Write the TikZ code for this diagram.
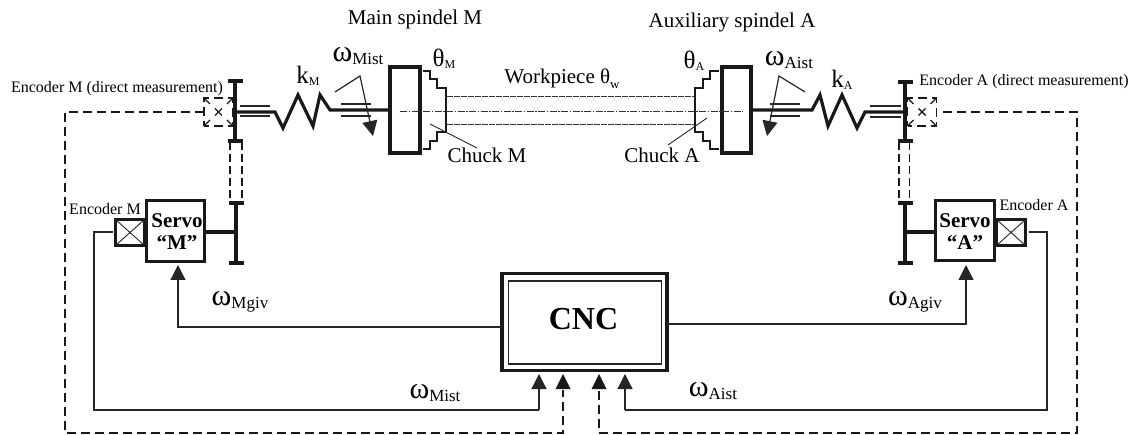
\documentclass[tikz,border=0pt]{standalone}
\usepackage{fontspec}
\setmainfont{Liberation Serif}
\usetikzlibrary{arrows.meta}

\newcommand{\symsub}[4]{{\fontsize{#2}{#2}\selectfont #1}\raisebox{-0.25em}{\fontsize{#4}{#4}\selectfont #3}}
\tikzset{every picture/.style={line width=0.75pt},
    boxthick/.style={draw=black!90, line width=3.2pt, fill=white, inner sep=0pt, outer sep=0pt},
    axle/.style={color=black!90, line width=3.2pt},
    sigline/.style={color=black!85, line width=1.2pt},
    sigtip/.style={-{Triangle[length=15pt,width=15pt]}},
    dashline/.style={color=black!90, line width=1.8pt, dash pattern={on 9pt off 5pt}},
    dashbox/.style={draw=black!90, line width=1.8pt, dash pattern={on 9.25pt off 5pt}, dash phase=4.6pt, inner sep=0pt, outer sep=0pt},
    belt/.style={color=black!90, line width=1.8pt, dash pattern={on 8pt off 4pt}},
    thinline/.style={color=black!85, line width=0.9pt},
    wpline/.style={color=black!80, line width=0.6pt, dash pattern={on 6pt off 1pt}},
    wpcenter/.style={color=black!80, line width=0.6pt, dash pattern={on 7pt off 1.5pt on 1.5pt off 1.5pt}},
    lblsmall/.style={font=\fontsize{16}{16}\selectfont, inner sep=0pt},
    lblmid/.style={font=\fontsize{21}{21}\selectfont, inner sep=0pt},
    lblservo/.style={font=\fontsize{21}{22}\selectfont\bfseries, inner sep=0pt, align=center}}

\begin{document}
\begin{tikzpicture}[x=1pt,y=-1pt]
    \useasboundingbox (0,0) rectangle (1132,435);

    \node[boxthick, minimum width=165pt, minimum height=97pt] (cncOuter) at (584.5,322) {};
    \node[draw=black!85, line width=1.4pt, fill=white, inner sep=0pt, outer sep=0pt, minimum width=153pt, minimum height=83pt] (cncInner) at (585,322.5) {};
    \node[font=\fontsize{32}{32}\selectfont\bfseries, inner sep=0pt] (cncText) at (583.5,319) {CNC};

    \node[boxthick, minimum width=58pt, minimum height=61pt] (servoM) at (175.5,231) {};
    \node[boxthick, minimum width=59pt, minimum height=60pt] (servoA) at (965,230.5) {};
    \node[lblservo] (servoMText) at (177,231.5) {Servo\\``M''};
    \node[lblservo] (servoAText) at (965,231.5) {Servo\\``A''};
    \node[boxthick, minimum width=29pt, minimum height=26pt] (encM) at (130,232.5) {};
    \node[boxthick, minimum width=29pt, minimum height=26pt] (encA) at (1011,232.5) {};
    \draw[thinline] (encM.north west) -- (encM.south east) (encM.south west) -- (encM.north east);
    \draw[thinline] (encA.north west) -- (encA.south east) (encA.south west) -- (encA.north east);

    \node[boxthick, line width=3.8pt, minimum width=30pt, minimum height=86pt] (wheelM) at (405,110) {};
    \node[boxthick, line width=3.8pt, minimum width=29pt, minimum height=86pt] (wheelA) at (736.5,110) {};

    \draw[line width=1.8pt, color=black!90] (423,71) -- (430,71) -- (430,79) -- (437,79) -- (437,88) -- (446,88) -- (446,132) -- (437,132) -- (437,141) -- (430,141) -- (430,149) -- (423,149);
    \draw[line width=1.8pt, color=black!90] (719,71) -- (710,71) -- (710,79) -- (703,79) -- (703,88) -- (695,88) -- (695,132) -- (703,132) -- (703,141) -- (710,141) -- (710,149) -- (719,149);
    \draw[wpline] (447,96) -- (694,96);
    \draw[wpline] (447,124) -- (694,124);
    \draw[wpcenter] (400,111) -- (743,111);
    \draw[thinline] (430,124) -- (477,148);
    \draw[thinline] (707,118) -- (668,145);

    \coordinate (discMtop) at (235,81);
    \coordinate (discMbot) at (235,141);
    \coordinate (gearMtop) at (236,203);
    \coordinate (gearMbot) at (236,263);
    \coordinate (discAtop) at (905,82);
    \coordinate (discAbot) at (905,141);
    \coordinate (gearAtop) at (905,203);
    \coordinate (gearAbot) at (905,263);
    \foreach \pt/\qt in {discMtop/discMbot, gearMtop/gearMbot, discAtop/discAbot, gearAtop/gearAbot} {
        \draw[axle, line width=3.4pt] (\pt) -- (\qt);
        \draw[axle] ([xshift=-7.5pt]\pt) -- ([xshift=7.5pt]\pt);
        \draw[axle] ([xshift=-7.5pt]\qt) -- ([xshift=7.5pt]\qt);
    }
    \draw[belt] (230,142) -- (230,202);
    \draw[belt] (242,142) -- (242,202);
    \draw[belt] (899,142) -- (899,202);
    \draw[belt] (909.5,142) -- (909.5,202);
    \coordinate (shaftMs) at (206,232);
    \coordinate (shaftAs) at (934,232);
    \draw[axle] (servoM.east |- shaftMs) -- (gearMtop |- shaftMs);
    \draw[axle] (servoA.west |- shaftAs) -- (gearAtop |- shaftAs);

    \draw[axle, line join=miter] (236,112) -- (275,112) -- (283,128) -- (298,95) -- (313,126) -- (320,95) -- (330,110) -- (wheelM.west |- 0,110);
    \draw[axle, line join=miter] (wheelA.east |- 0,110) -- (812,110) -- (820,95) -- (828,126) -- (842,95) -- (857,128) -- (865,112) -- (904,112);
    \draw[thinline, line width=1.4pt] (240,106) -- (270,106);
    \draw[thinline, line width=1.4pt] (240,116) -- (270,116);
    \draw[thinline, line width=1.4pt] (341,104) -- (371,104);
    \draw[thinline, line width=1.4pt] (341,116) -- (371,116);
    \draw[thinline, line width=1.4pt] (770,104) -- (800,104);
    \draw[thinline, line width=1.4pt] (770,116) -- (800,116);
    \draw[thinline, line width=1.4pt] (870,106) -- (901,106);
    \draw[thinline, line width=1.4pt] (870,117) -- (901,117);

    \draw[sigline, sigtip] (335,92) -- (360,76) -- (373,136);
    \draw[sigline, sigtip] (805,92) -- (779,76) -- (767,136);

    \node[dashbox, minimum width=29pt, minimum height=28pt] (encDirM) at (218.5,112) {};
    \node[dashbox, minimum width=29pt, minimum height=28pt] (encDirA) at (922,112) {};
    \foreach \nd in {encDirM, encDirA} {
        \draw[line width=1.4pt, color=black!90] ([xshift=-3.5pt,yshift=-3.5pt]\nd.center) -- ([xshift=3.5pt,yshift=3.5pt]\nd.center);
        \draw[line width=1.4pt, color=black!90] ([xshift=-3.5pt,yshift=3.5pt]\nd.center) -- ([xshift=3.5pt,yshift=-3.5pt]\nd.center);
        \draw[line width=1.2pt, color=black!90] (\nd.north west) -- ([xshift=6pt,yshift=-6pt]\nd.north west);
        \draw[line width=1.2pt, color=black!90] (\nd.north east) -- ([xshift=-6pt,yshift=-6pt]\nd.north east);
        \draw[line width=1.2pt, color=black!90] (\nd.south west) -- ([xshift=6pt,yshift=6pt]\nd.south west);
        \draw[line width=1.2pt, color=black!90] (\nd.south east) -- ([xshift=-6pt,yshift=6pt]\nd.south east);
    }

    \coordinate (cncInMs) at (539,374);
    \coordinate (cncInMd) at (563,374);
    \coordinate (cncInAd) at (599,374);
    \coordinate (cncInAs) at (625,374);
    \draw[sigline, sigtip] (cncOuter.west |- 0,327) -- (178,327) -- (178,265);
    \draw[sigline, sigtip] (cncOuter.east |- 0,324) -- (966,324) -- (966,265);
    \draw[sigline] (encM.west |- 0,232) ++(-3,0) -- (94,232) -- (94,410) -- (539,410);
    \draw[sigline, sigtip] (539,410) -- (cncInMs);
    \draw[sigline] (encA.east |- 0,232) ++(3,0) -- (1047,232) -- (1047,410) -- (625,410);
    \draw[sigline, sigtip] (625,410) -- (cncInAs);
    \draw[dashline] (encDirM.west) -- (65,112) -- (65,433) -- (563,433) -- (563,390);
    \draw[dashline] (943,112) -- (1077,112) -- (1077,433) -- (599,433) -- (599,390);
    \fill[color=black!90] (cncInMd) -- ++(7.5,15) -- ++(-15,0) -- cycle;
    \fill[color=black!90] (cncInAd) -- ++(7.5,15) -- ++(-15,0) -- cycle;

    \node[lblmid] (titleM) at (415,19) {Main spindel M};
    \node[lblmid] (titleA) at (732,22) {Auxiliary spindel A};
    \node[lblmid] (workpiece) at (562,79) {Workpiece \symsub{θ}{21}{w}{13}};
    \node[lblmid] (chuckM) at (487,155) {Chuck M};
    \node[lblmid] (chuckA) at (662,155) {Chuck A};
    \node[lblsmall] (encDirMText) at (117,89) {Encoder M (direct measurement)};
    \node[lblsmall] (encDirAText) at (1024,82) {Encoder A (direct measurement)};
    \node[lblsmall] (encMText) at (105,209) {Encoder M};
    \node[lblsmall] (encAText) at (1034,205) {Encoder A};

    \node[inner sep=0pt] (thetaM) at (444,59) {\symsub{θ}{25}{M}{12}};
    \node[inner sep=0pt] (thetaA) at (694,61) {\symsub{θ}{25}{A}{12}};
    \node[inner sep=0pt] (kM) at (308,76) {\symsub{k}{25}{M}{12}};
    \node[inner sep=0pt] (kA) at (842,80) {\symsub{k}{25}{A}{12}};
    \node[inner sep=0pt] (omMist) at (358,56) {\symsub{ω}{30}{Mist}{17}};
    \node[inner sep=0pt] (omAist) at (789,60) {\symsub{ω}{30}{Aist}{17}};
    \node[inner sep=0pt] (omMgiv) at (240,302) {\symsub{ω}{30}{Mgiv}{17}};
    \node[inner sep=0pt] (omAgiv) at (915,302) {\symsub{ω}{30}{Agiv}{17}};
    \node[inner sep=0pt] (omMistB) at (435,393) {\symsub{ω}{30}{Mist}{17}};
    \node[inner sep=0pt] (omAistB) at (713,391) {\symsub{ω}{30}{Aist}{17}};
\end{tikzpicture}
\end{document}
